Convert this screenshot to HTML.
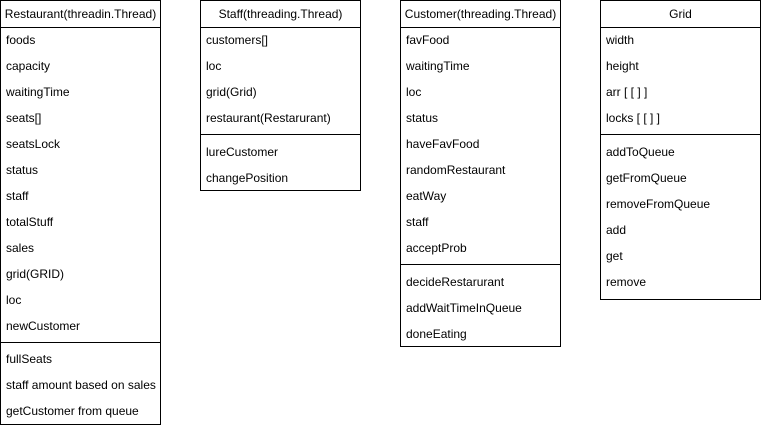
<!DOCTYPE html>
<html><head><style>
body{margin:0;width:761px;height:428px;background:#fff;position:relative;font-family:"Liberation Sans",Arial,sans-serif;font-size:12px;color:#000;overflow:hidden}
.b{position:absolute;border:1px solid #000;box-sizing:border-box;background:#fff}
.h{position:absolute;left:0;right:0;top:0;height:26px;line-height:27px;text-align:center;border-bottom:1px solid #000}
.r{position:absolute;left:5px;height:26px;line-height:26px;white-space:nowrap}
.d{position:absolute;left:0;right:0;height:0;border-top:1px solid #000}
</style></head><body>
<div class="b" style="left:0;top:0;width:161px;height:425px">
<div class="h">Restaurant(threadin.Thread)</div>
<div class="r" style="top:26px">foods</div>
<div class="r" style="top:52px">capacity</div>
<div class="r" style="top:78px">waitingTime</div>
<div class="r" style="top:104px">seats[]</div>
<div class="r" style="top:130px">seatsLock</div>
<div class="r" style="top:156px">status</div>
<div class="r" style="top:182px">staff</div>
<div class="r" style="top:208px">totalStuff</div>
<div class="r" style="top:234px">sales</div>
<div class="r" style="top:260px">grid(GRID)</div>
<div class="r" style="top:286px">loc</div>
<div class="r" style="top:312px">newCustomer</div>
<div class="d" style="top:341px"></div>
<div class="r" style="top:345px">fullSeats</div>
<div class="r" style="top:371px">staff amount based on sales</div>
<div class="r" style="top:397px">getCustomer from queue</div>
</div>
<div class="b" style="left:200px;top:0;width:161px;height:191px">
<div class="h">Staff(threading.Thread)</div>
<div class="r" style="top:26px">customers[]</div>
<div class="r" style="top:52px">loc</div>
<div class="r" style="top:78px">grid(Grid)</div>
<div class="r" style="top:104px">restaurant(Restarurant)</div>
<div class="d" style="top:133px"></div>
<div class="r" style="top:138px">lureCustomer</div>
<div class="r" style="top:164px">changePosition</div>
</div>
<div class="b" style="left:400px;top:0;width:161px;height:347px">
<div class="h">Customer(threading.Thread)</div>
<div class="r" style="top:26px">favFood</div>
<div class="r" style="top:52px">waitingTime</div>
<div class="r" style="top:78px">loc</div>
<div class="r" style="top:104px">status</div>
<div class="r" style="top:130px">haveFavFood</div>
<div class="r" style="top:156px">randomRestaurant</div>
<div class="r" style="top:182px">eatWay</div>
<div class="r" style="top:208px">staff</div>
<div class="r" style="top:234px">acceptProb</div>
<div class="d" style="top:263px"></div>
<div class="r" style="top:268px">decideRestarurant</div>
<div class="r" style="top:294px">addWaitTimeInQueue</div>
<div class="r" style="top:320px">doneEating</div>
</div>
<div class="b" style="left:600px;top:0;width:161px;height:300px">
<div class="h">Grid</div>
<div class="r" style="top:26px">width</div>
<div class="r" style="top:52px">height</div>
<div class="r" style="top:78px">arr [ [ ] ]</div>
<div class="r" style="top:104px">locks [ [ ] ]</div>
<div class="d" style="top:133px"></div>
<div class="r" style="top:138px">addToQueue</div>
<div class="r" style="top:164px">getFromQueue</div>
<div class="r" style="top:190px">removeFromQueue</div>
<div class="r" style="top:216px">add</div>
<div class="r" style="top:242px">get</div>
<div class="r" style="top:268px">remove</div>
</div>
</body></html>
